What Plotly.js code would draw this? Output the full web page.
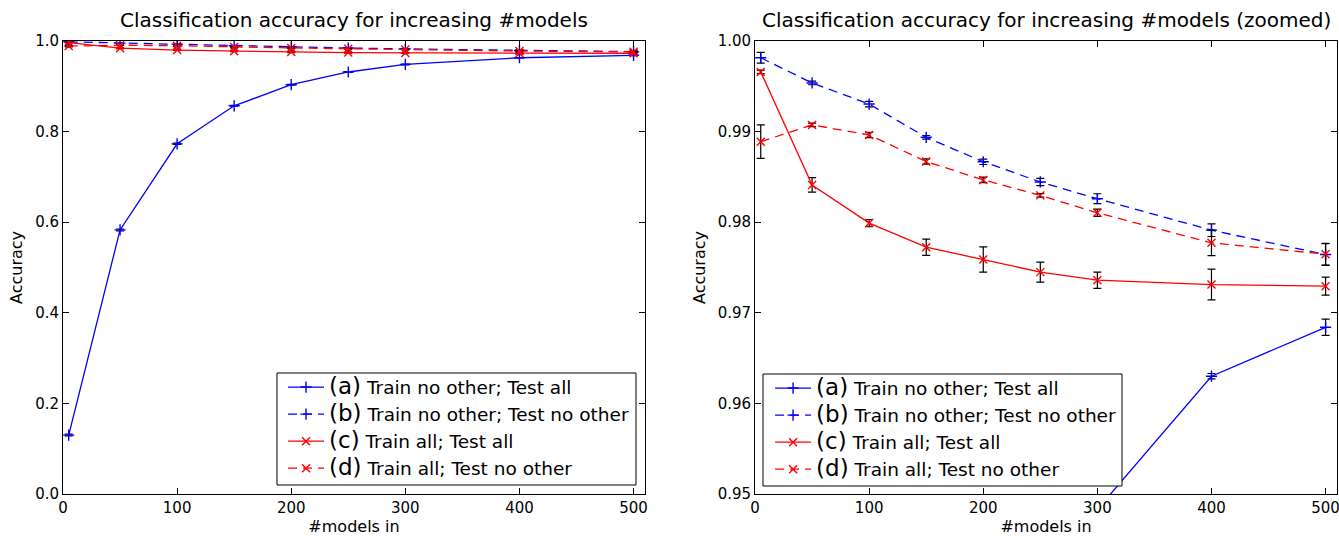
<!DOCTYPE html>
<html>
<head>
<meta charset="utf-8">
<script src="https://cdn.plot.ly/plotly-3.0.1.min.js"></script>
<style>html,body{margin:0;padding:0;background:#fff;}#chart{width:1339px;height:536px;}</style>
</head>
<body>
<div id="chart"></div>
<script>
// ---- data ----
const nModels = [5, 50, 100, 150, 200, 250, 300, 400, 500];

const accA = [0.130, 0.583, 0.773, 0.857, 0.9035, 0.9316, 0.9483, 0.9630, 0.9684];
const errA = [0.002, 0.002, 0.0015, 0.001, 0.001, 0.0008, 0.0008, 0.0003, 0.0009];

const accB = [0.99815, 0.99537, 0.99304, 0.98937, 0.98667, 0.98444, 0.98259, 0.97912, 0.97643];
const errB = [0.0006, 0.0002, 0.0003, 0.0002, 0.0003, 0.0004, 0.00055, 0.0007, 0.0012];

const accC = [0.99659, 0.98411, 0.97990, 0.97724, 0.97588, 0.97449, 0.97360, 0.97312, 0.97294];
const errC = [0.0002, 0.0008, 0.0004, 0.0009, 0.0014, 0.0011, 0.0009, 0.0017, 0.0010];

const accD = [0.98889, 0.99074, 0.98963, 0.98670, 0.98467, 0.98296, 0.98104, 0.97772, 0.97647];
const errD = [0.00185, 0.0002, 0.0003, 0.0003, 0.0003, 0.0002, 0.0004, 0.0014, 0.0012];

const seriesTags = ["(a)", "(b)", "(c)", "(d)"];
const seriesNames = [
  "Train no other; Test all",
  "Train no other; Test no other",
  "Train all; Test all",
  "Train all; Test no other"
];
const mainTitle = "Classification accuracy for increasing #models";
const zoomTitle = "Classification accuracy for increasing #models (zoomed)";
const xTitle = "#models in";
const yTitle = "Accuracy";

// ---- styles ----
const FONT = "DejaVu Sans, sans-serif";
const styles = [
  {color: "blue", dash: "solid", symbol: "cross-thin-open"},
  {color: "blue", dash: "9px,6px", symbol: "cross-thin-open"},
  {color: "red", dash: "solid", symbol: "x-thin-open"},
  {color: "red", dash: "9px,6px", symbol: "x-thin-open"}
];
const ys = [accA, accB, accC, accD];
const es = [errA, errB, errC, errD];

function label(i) {
  return "<span style='font-size:23px'>" + seriesTags[i] + "</span> " + seriesNames[i];
}

const traces = [];
[["x", "y", "legend"], ["x2", "y2", "legend2"]].forEach(function (ax) {
  for (let i = 0; i < 4; i++) {
    traces.push({
      type: "scatter",
      mode: "lines+markers",
      x: nModels,
      y: ys[i],
      xaxis: ax[0],
      yaxis: ax[1],
      legend: ax[2],
      name: label(i),
      line: {color: styles[i].color, width: 1.3, dash: styles[i].dash},
      marker: {symbol: styles[i].symbol, size: 8, color: styles[i].color,
               line: {color: styles[i].color, width: 1.4}},
      error_y: {type: "data", array: es[i], visible: true, color: "black", thickness: 1.2, width: 4}
    });
  }
});

const axisBase = {
  showline: true, linecolor: "black", linewidth: 1, mirror: "ticks",
  ticks: "inside", ticklen: 6, tickcolor: "black", tickwidth: 1,
  showgrid: false, zeroline: false, ticklabeloverflow: "allow",
  tickfont: {family: FONT, size: 15, color: "black"}
};

const legendBase = {
  xanchor: "left", yanchor: "top",
  bgcolor: "rgba(0,0,0,0)", borderwidth: 0, itemwidth: 36,
  font: {family: FONT, size: 18.5, color: "black"},
  tracegroupgap: 0
};

// legend frames (white boxes behind the legend entries)
const boxStyle = {type: "rect", xref: "paper", yref: "paper", layer: "above",
  fillcolor: "white", line: {color: "black", width: 1}};

const layout = {
  width: 1339, height: 536,
  margin: {l: 63, r: 2, t: 41, b: 42},
  paper_bgcolor: "white", plot_bgcolor: "white",
  font: {family: FONT, color: "black"},
  xaxis: Object.assign({}, axisBase, {domain: [0, 0.4568], range: [0, 510], dtick: 100, tick0: 0,
    title: {text: xTitle, font: {family: FONT, size: 16}, standoff: 11}}),
  yaxis: Object.assign({}, axisBase, {domain: [0, 1], range: [0, 1], dtick: 0.2, tickformat: ".1f",
    title: {text: yTitle, font: {family: FONT, size: 16}, standoff: 8}}),
  xaxis2: Object.assign({}, axisBase, {domain: [0.5432, 1], range: [0, 510], dtick: 100, tick0: 0, anchor: "y2",
    title: {text: xTitle, font: {family: FONT, size: 16}, standoff: 11}}),
  yaxis2: Object.assign({}, axisBase, {domain: [0, 1], range: [0.95, 1.0], dtick: 0.01, tickformat: ".2f", anchor: "x2",
    title: {text: yTitle, font: {family: FONT, size: 16}, standoff: 8}}),
  legend: Object.assign({}, legendBase, {x: 0.1727, y: 0.2770}),
  legend2: Object.assign({}, legendBase, {x: 0.5550, y: 0.2748}),
  showlegend: true,
  shapes: [
    Object.assign({}, boxStyle, {x0: 0.16797, x1: 0.44976, y0: 0.01987, y1: 0.26711}),
    Object.assign({}, boxStyle, {x0: 0.54945, x1: 0.83124, y0: 0.01766, y1: 0.26490})
  ],
  annotations: [
    {text: mainTitle, xref: "paper", yref: "paper", x: 0.2284, y: 1.046, xanchor: "center", yanchor: "middle",
     showarrow: false, font: {family: FONT, size: 20, color: "black"}},
    {text: zoomTitle, xref: "paper", yref: "paper", x: 0.7716, y: 1.046, xanchor: "center", yanchor: "middle",
     showarrow: false, font: {family: FONT, size: 20, color: "black"}}
  ]
};

Plotly.newPlot("chart", traces, layout, {displayModeBar: false, staticPlot: true});
</script>
</body>
</html>
